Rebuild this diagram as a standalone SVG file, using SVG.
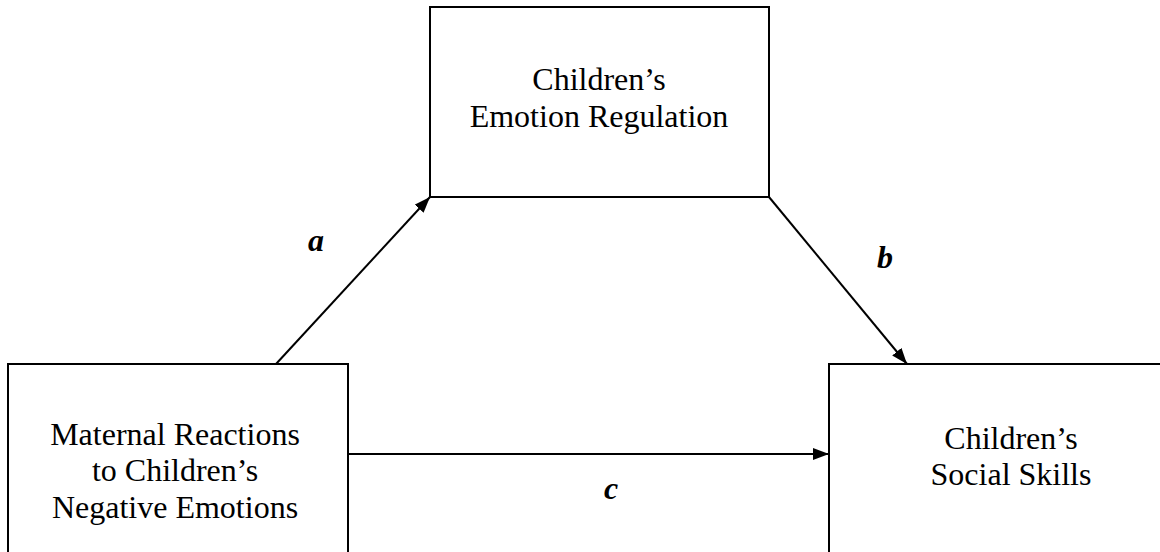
<svg xmlns="http://www.w3.org/2000/svg" width="1160" height="552" viewBox="0 0 1160 552">
  <style>
    .box { fill: #ffffff; stroke: #000000; stroke-width: 2; }
    .lbl { font-family: "Liberation Serif", "Times New Roman", serif; font-size: 32px; fill: #000000; text-anchor: middle; }
    .path { font-family: "Liberation Serif", "Times New Roman", serif; font-size: 32px; font-weight: bold; font-style: italic; fill: #000000; text-anchor: middle; }
    .conn { stroke: #000000; stroke-width: 2; fill: none; marker-end: url(#arrow); }
  </style>
  <defs>
    <marker id="arrow" viewBox="0 0 16 12" refX="16" refY="6" markerWidth="16" markerHeight="12" markerUnits="userSpaceOnUse" orient="auto">
      <path d="M0,0 L16,6 L0,12 Z" fill="#000000"/>
    </marker>
  </defs>
  <rect x="0" y="0" width="1160" height="552" fill="#ffffff"/>
  <g id="connectors">
    <line class="conn" x1="276" y1="364" x2="430" y2="197"/>
    <line class="conn" x1="769" y1="197" x2="907" y2="364"/>
    <line class="conn" x1="348" y1="454" x2="829" y2="454"/>
  </g>
  <g id="node-emotion-regulation">
    <rect class="box" x="430" y="7" width="339" height="190"/>
    <text class="lbl" x="599" y="90">Children’s</text>
    <text class="lbl" x="599" y="127">Emotion Regulation</text>
  </g>
  <g id="node-maternal-reactions">
    <rect class="box" x="8" y="364" width="340" height="200"/>
    <text class="lbl" x="175" y="445">Maternal Reactions</text>
    <text class="lbl" x="175" y="481">to Children’s</text>
    <text class="lbl" x="175" y="518">Negative Emotions</text>
  </g>
  <g id="node-social-skills">
    <rect class="box" x="829" y="364" width="345" height="200"/>
    <text class="lbl" x="1011" y="449">Children’s</text>
    <text class="lbl" x="1011" y="485">Social Skills</text>
  </g>
  <g id="path-labels">
    <text class="path" x="316" y="251">a</text>
    <text class="path" x="885" y="268">b</text>
    <text class="path" x="611" y="499">c</text>
  </g>
</svg>
